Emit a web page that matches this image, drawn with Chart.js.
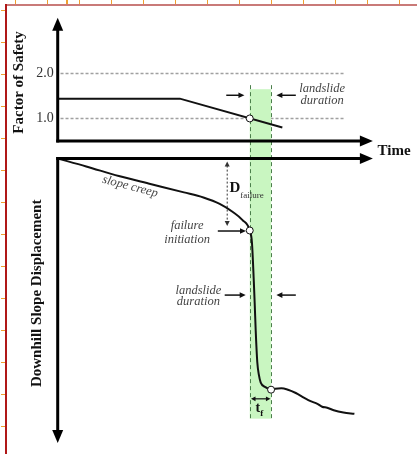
<!DOCTYPE html>
<html><head><meta charset="utf-8">
<script src="https://cdn.jsdelivr.net/npm/chart.js@4"></script>
<style>html,body{margin:0;padding:0;background:#fff;overflow:hidden}canvas{display:block}</style>
</head><body>
<canvas id="c" width="417" height="454"></canvas>
<script>
// ---- data ----
const fsTime   = [0, 39, 71.7];
const fsValue  = [1.44, 1.44, 0.80];
const fsTicks  = [1.0, 2.0];
const dispTime  = [0, 9.1, 19.5, 29.9, 40.3, 46.5, 51.7, 55.9, 59.0, 61.3, 62.0, 62.6, 62.9, 63.2, 63.7, 64.2, 64.8, 66.3, 68.1, 69.4, 71.4, 73.5, 76.0, 78.7, 80.7, 82.9, 84.4, 86.0, 88.1, 91.2, 94.7];
const dispValue = [0, 0.31, 0.69, 1.01, 1.33, 1.53, 1.78, 2.10, 2.42, 2.83, 3.31, 4.85, 5.77, 6.77, 8.0, 8.5, 8.81, 8.99, 9.09, 9.05, 9.03, 9.09, 9.22, 9.41, 9.54, 9.65, 9.76, 9.80, 9.90, 9.99, 10.04];
const bandTime = [61.3, 68.1];          // landslide duration (t_f)
const fsFailure = [61.3, 1.0];           // FS reaches 1.0
const dispMarksTime  = [61.3, 68.1];     // failure initiation / end
const dispMarksValue = [2.83, 9.09];
const dFailure = 2.65;                   // D_failure extent

const SERIF = "'Liberation Serif','DejaVu Serif',serif";

function arrowHead(ctx, x1, y1, x2, y2, len, half) {
  const a = Math.atan2(y2 - y1, x2 - x1);
  ctx.beginPath();
  ctx.moveTo(x2, y2);
  ctx.lineTo(x2 - len * Math.cos(a) + half * Math.sin(a), y2 - len * Math.sin(a) - half * Math.cos(a));
  ctx.lineTo(x2 - len * Math.cos(a) - half * Math.sin(a), y2 - len * Math.sin(a) + half * Math.cos(a));
  ctx.closePath();
  ctx.fill();
}
function arrow(ctx, x1, y1, x2, y2, opt) {
  const o = Object.assign({w: 1.5, len: 6, half: 2.8, color: '#111', dash: [], both: false}, opt || {});
  ctx.save();
  ctx.strokeStyle = o.color; ctx.fillStyle = o.color; ctx.lineWidth = o.w;
  ctx.setLineDash(o.dash);
  const a = Math.atan2(y2 - y1, x2 - x1);
  const sx = o.both ? x1 + o.len * 0.8 * Math.cos(a) : x1, sy = o.both ? y1 + o.len * 0.8 * Math.sin(a) : y1;
  ctx.beginPath();
  ctx.moveTo(sx, sy);
  ctx.lineTo(x2 - o.len * 0.8 * Math.cos(a), y2 - o.len * 0.8 * Math.sin(a));
  ctx.stroke();
  ctx.setLineDash([]);
  arrowHead(ctx, x1, y1, x2, y2, o.len, o.half);
  if (o.both) arrowHead(ctx, x2, y2, x1, y1, o.len, o.half);
  ctx.restore();
}
function text(ctx, s, x, y, font, color, align, rot) {
  ctx.save();
  ctx.font = font; ctx.fillStyle = color || '#111';
  ctx.textAlign = align || 'center'; ctx.textBaseline = 'middle';
  ctx.translate(x, y);
  if (rot) ctx.rotate(rot);
  ctx.fillText(s, 0, 0);
  ctx.restore();
}

const backPlugin = {
  id: 'back',
  beforeDatasetsDraw(chart) {
    const ctx = chart.ctx, s = chart.scales;
    const X = v => s.x.getPixelForValue(v), F = v => s.yFS.getPixelForValue(v), D = v => s.yD.getPixelForValue(v);
    ctx.save();
    // grid lines at FS ticks
    ctx.strokeStyle = '#a0a0a0'; ctx.lineWidth = 1.5; ctx.setLineDash([3, 2]);
    fsTicks.forEach(v => { ctx.beginPath(); ctx.moveTo(X(0.9), F(v)); ctx.lineTo(X(91.6), F(v)); ctx.stroke(); });
    // landslide duration band
    ctx.setLineDash([]);
    ctx.fillStyle = '#c9f6c1';
    ctx.fillRect(X(bandTime[0]), F(1.65), X(bandTime[1]) - X(bandTime[0]), D(10.23) - F(1.65));
    ctx.strokeStyle = '#4b7f4b'; ctx.lineWidth = 1; ctx.setLineDash([4, 3]);
    bandTime.forEach(t => { ctx.beginPath(); ctx.moveTo(Math.round(X(t)) + 0.5, F(1.74)); ctx.lineTo(Math.round(X(t)) + 0.5, D(10.23)); ctx.stroke(); });
    ctx.restore();
  },
  afterDatasetsDraw(chart) {
    const ctx = chart.ctx, s = chart.scales;
    const X = v => s.x.getPixelForValue(v), F = v => s.yFS.getPixelForValue(v), D = v => s.yD.getPixelForValue(v);
    // ruler frame (decoration of the reference image)
    ctx.save();
    ctx.fillStyle = '#c97a78'; ctx.fillRect(6, 4, 411, 2);
    ctx.fillStyle = '#b01818'; ctx.fillRect(5, 4, 2, 450);
    ctx.fillStyle = '#f0a030';
    for (let x = 15; x < 417; x += 32) ctx.fillRect(x, 0, 1, 4);
    ctx.fillRect(66, 0, 2, 4);
    for (let y = 10; y < 454; y += 32) ctx.fillRect(1, y, 4, 1);
    ctx.restore();
    // axes
    const ax = {w: 3, len: 13, half: 5.5, color: '#000'};
    arrow(ctx, X(0), F(0.5) + 1.5, X(0), F(3.24), ax);
    arrow(ctx, X(0) - 1.5, F(0.5), X(100.6), F(0.5), ax);
    arrow(ctx, X(0) - 1.5, D(0), X(100.6), D(0), ax);
    arrow(ctx, X(0), D(0) - 1.5, X(0), D(11.19), ax);
    // tick labels
    fsTicks.forEach(v => text(ctx, v.toFixed(1), X(-1.3), F(v), "14px " + SERIF, '#333', 'right'));
    // axis titles
    text(ctx, 'Factor of Safety', 19, F(1.8), "bold 15px " + SERIF, '#111', 'center', -Math.PI / 2);
    text(ctx, 'Downhill Slope Displacement', 37.5, D(5.3), "bold 15px " + SERIF, '#111', 'center', -Math.PI / 2);
    text(ctx, 'Time', X(102.1), D(-0.31), "bold 15px " + SERIF, '#111', 'left');
    // top annotations
    const it = "italic 12.5px " + SERIF, gray = '#444';
    arrow(ctx, X(53.8), F(1.515), X(59.6), F(1.515));
    arrow(ctx, X(76.0), F(1.515), X(69.8), F(1.515));
    text(ctx, 'landslide', X(84.4), F(1.67), it, gray);
    text(ctx, 'duration', X(84.4), F(1.39), it, gray);
    // bottom annotations
    text(ctx, 'slope creep', X(23.1), D(1.10), it, gray, 'center', 0.26);
    arrow(ctx, X(54.1), D(0.12), X(54.1), D(dFailure), {w: 1, dash: [2, 2], both: true, color: '#333', len: 5, half: 2.5});
    text(ctx, 'D', X(54.8), D(1.15), "bold 15px " + SERIF, '#111', 'left');
    text(ctx, 'failure', X(58.3), D(1.45), "9px " + SERIF, '#333', 'left');
    text(ctx, 'failure', X(41.3), D(2.65), it, gray);
    text(ctx, 'initiation', X(41.3), D(3.19), it, gray);
    arrow(ctx, X(51.1), D(2.85), X(60.1), D(2.85));
    text(ctx, 'landslide', X(44.9), D(5.18), it, gray);
    text(ctx, 'duration', X(44.9), D(5.62), it, gray);
    arrow(ctx, X(53.3), D(5.37), X(60.0), D(5.37));
    arrow(ctx, X(76.0), D(5.37), X(69.8), D(5.37));
    arrow(ctx, X(61.7), D(9.45), X(67.9), D(9.45), {w: 1.2, both: true, len: 4.5, half: 2.3});
    text(ctx, 't', X(63.9), D(9.82), "bold 14px " + SERIF, '#111', 'center');
    text(ctx, 'f', X(65.1), D(10.02), "bold 9px " + SERIF, '#111', 'center');
  }
};

const xy = (ts, vs) => ts.map((t, i) => ({x: t, y: vs[i]}));
new Chart(document.getElementById('c'), {
  type: 'line',
  data: {
    datasets: [
      {data: [{x: fsFailure[0], y: fsFailure[1]}], yAxisID: 'yFS', showLine: false, order: 0,
       pointRadius: 3.5, pointBackgroundColor: '#fff', pointBorderColor: '#111', pointBorderWidth: 1},
      {data: xy(dispMarksTime, dispMarksValue), yAxisID: 'yD', showLine: false, order: 0,
       pointRadius: 3.5, pointBackgroundColor: '#fff', pointBorderColor: '#111', pointBorderWidth: 1},
      {data: xy(fsTime, fsValue), yAxisID: 'yFS', order: 1, borderColor: '#111', borderWidth: 2, pointRadius: 0, tension: 0},
      {data: xy(dispTime, dispValue), yAxisID: 'yD', order: 1, borderColor: '#111', borderWidth: 2, pointRadius: 0,
       cubicInterpolationMode: 'monotone'}
    ]
  },
  options: {
    responsive: false, animation: false, events: [],
    layout: {padding: 0},
    plugins: {legend: {display: false}, tooltip: {enabled: false}},
    scales: {
      x: {type: 'linear', display: false, min: -54 / 3.21, max: (417 - 54) / 3.21},
      yFS: {type: 'linear', display: false, min: 1 - 338 / 46, max: 1 + 116 / 46},
      yD: {type: 'linear', display: false, reverse: true, min: -157 / 26, max: 297 / 26}
    }
  },
  plugins: [backPlugin]
});
</script>
</body></html>
